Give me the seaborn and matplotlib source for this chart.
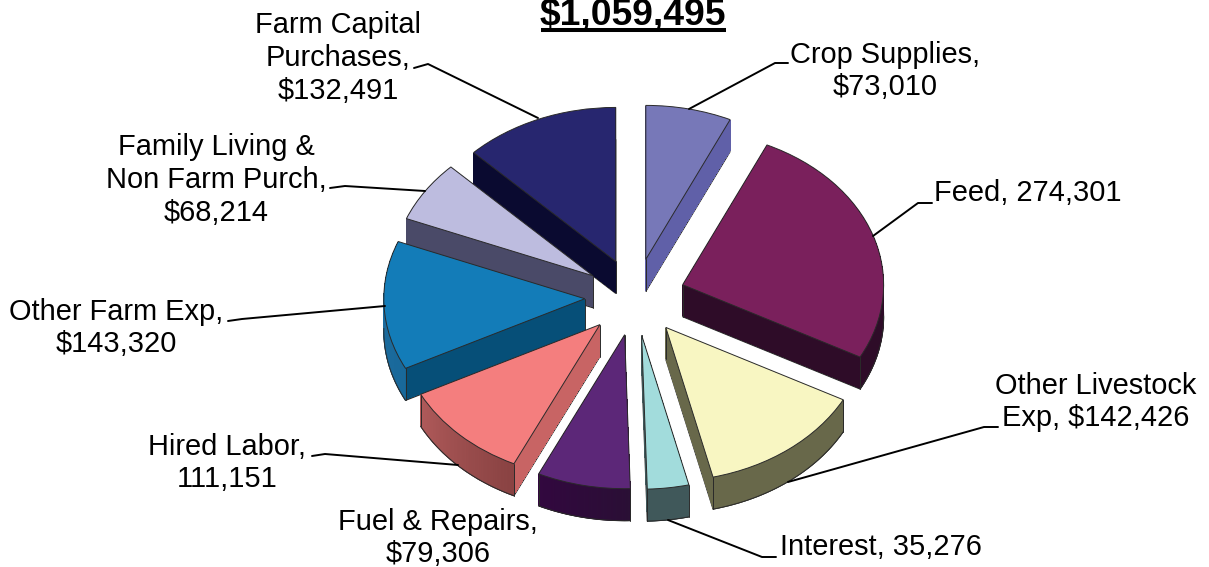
"""
Farm expenses, exploded pseudo 3D pie
"""
import numpy as np
import seaborn as sns
import matplotlib.pyplot as plt
import matplotlib.colors as mcolors

#------------------------------------------------------------------------------
# Data
#------------------------------------------------------------------------------

categories = ['Crop Supplies', 'Feed', 'Other Livestock Exp', 'Interest', 'Fuel & Repairs',
              'Hired Labor', 'Other Farm Exp', 'Family Living & Non Farm Purch',
              'Farm Capital Purchases']
values = [73010, 274301, 142426, 35276, 79306, 111151, 143320, 68214, 132491]
colors = ['#7778B8', '#7A205C', '#F8F6C2', '#A2DCDC', '#5C2778',
          '#F47E7E', '#137CB8', '#BDBCDF', '#27266F']
cut_colors = ['#6060A8', '#2E0C28', '#68684A', '#40585A', '#32083F',
              '#C86464', '#064F78', '#4A4A68', '#0A0A30']
wall_right = ['#6060A8', '#2E0C28', '#68684A', '#40585A', '#2A1035',
              '#884242', '#1A6A9C', '#4A4A68', '#0A0A30']
wall_left = ['#6060A8', '#2E0C28', '#68684A', '#40585A', '#32083F',
             '#B05A5A', '#1A6A9C', '#4A4A68', '#0A0A30']
label_text = ['Crop Supplies,\n$73,010', 'Feed, 274,301', 'Other Livestock\nExp, $142,426',
              'Interest, 35,276', 'Fuel & Repairs,\n$79,306', 'Hired Labor,\n111,151',
              'Other Farm Exp,\n$143,320', 'Family Living &\nNon Farm Purch,\n$68,214',
              'Farm Capital\nPurchases,\n$132,491']

#------------------------------------------------------------------------------
# Settings
#------------------------------------------------------------------------------

W, H = 1209, 567
cx, cy = 635, 297
rx, ry = 201, 154
depth = 32
explode = [0.25] * len(values)
edge = '#2a2a2a'

label_pos = [(885, 71), (1028, 193), (1096, 402), (881, 547), (438, 538),
             (227, 463), (116, 328), (216, 180), (338, 58)]
leaders = [[(689, 109), (775, 63), (788, 63)],
           [(873, 236), (918, 203), (932, 203)],
           [(788, 482), (984, 427), (998, 427)],
           [(668, 520), (762, 557), (776, 557)],
           [],
           [(458, 465), (325, 454), (312, 456)],
           [(385, 306), (242, 319), (228, 321)],
           [(425, 191), (345, 186), (330, 188)],
           [(538, 118), (428, 64), (414, 68)]]

sns.set_theme(style = 'white')
plt.rcParams['font.family'] = ['Liberation Sans', 'DejaVu Sans']

fig = plt.figure(figsize = (W / 100, H / 100), dpi = 100)
ax = fig.add_axes([0, 0, 1, 1])

#------------------------------------------------------------------------------
# Pie: cut faces are the same pie stacked downwards, top face goes last
#------------------------------------------------------------------------------

ax.pie(values, colors = cut_colors, startangle = 90, counterclock = False,
       explode = explode, center = (0, -depth / ry),
       wedgeprops = {'edgecolor': edge, 'linewidth': 0.8})
for d in np.arange(depth - 1, 0, -1):
    ax.pie(values, colors = cut_colors, startangle = 90, counterclock = False,
           explode = explode, center = (0, -d / ry),
           wedgeprops = {'edgecolor': 'none', 'linewidth': 0, 'antialiased': False})

top, _ = ax.pie(values, colors = colors, startangle = 90, counterclock = False,
                explode = explode, center = (0, 0),
                wedgeprops = {'edgecolor': edge, 'linewidth': 0.7})

# outer walls and vertical corners, taken from the wedges of the top face
dz = depth / ry
for i, w in enumerate(top):
    x0, y0 = w.center
    t = np.radians(np.linspace(w.theta1, w.theta2, 80))
    t = t[np.sin(t) < 0.02]
    if len(t) > 1:
        c_left = np.array(mcolors.to_rgb(wall_left[i]))
        c_right = np.array(mcolors.to_rgb(wall_right[i]))
        for j in range(len(t) - 1):
            xs = x0 + np.cos(t[j:j + 2])
            ys = y0 + np.sin(t[j:j + 2])
            c = c_left + (c_right - c_left) * j / (len(t) - 1)
            ax.fill(np.r_[xs, xs[::-1]], np.r_[ys, ys[::-1] - dz], color = c,
                    lw = 0.5, zorder = 1.5)
        ax.plot(x0 + np.cos(t), y0 + np.sin(t) - dz, color = edge, lw = 0.7, zorder = 1.6)
        for a in (t[0], t[-1]):
            xa = x0 + np.cos(a)
            ya = y0 + np.sin(a)
            if np.sin(a) < -0.02:
                ax.plot([xa, xa], [ya, ya - dz], color = edge, lw = 0.7, zorder = 1.6)
    ax.plot([x0, x0], [y0, y0 - dz], color = edge, lw = 0.7, zorder = 1.6)
    w.set_zorder(2)

ax.set_aspect('auto')
ax.set_xlim(-cx / rx, (W - cx) / rx)
ax.set_ylim(-(H - cy) / ry, cy / ry)
ax.axis('off')

#------------------------------------------------------------------------------
# Labels in pixel coordinates
#------------------------------------------------------------------------------

over = fig.add_axes([0, 0, 1, 1])
over.set_xlim(0, W)
over.set_ylim(H, 0)
over.axis('off')

for txt, pos, lead in zip(label_text, label_pos, leaders):
    over.text(pos[0], pos[1], txt, ha = 'center', va = 'center', fontsize = 20.9,
              linespacing = 1.22, color = 'black')
    if lead:
        over.plot([p[0] for p in lead], [p[1] for p in lead], color = 'black', lw = 1.4)

over.text(633, 25, '$1,059,495', ha = 'center', va = 'baseline', fontsize = 26.8,
          fontweight = 'bold', color = 'black')
over.plot([541, 726], [30, 30], color = 'black', lw = 2.9, solid_capstyle = 'butt')

fig.savefig('out.png', dpi = 100)
